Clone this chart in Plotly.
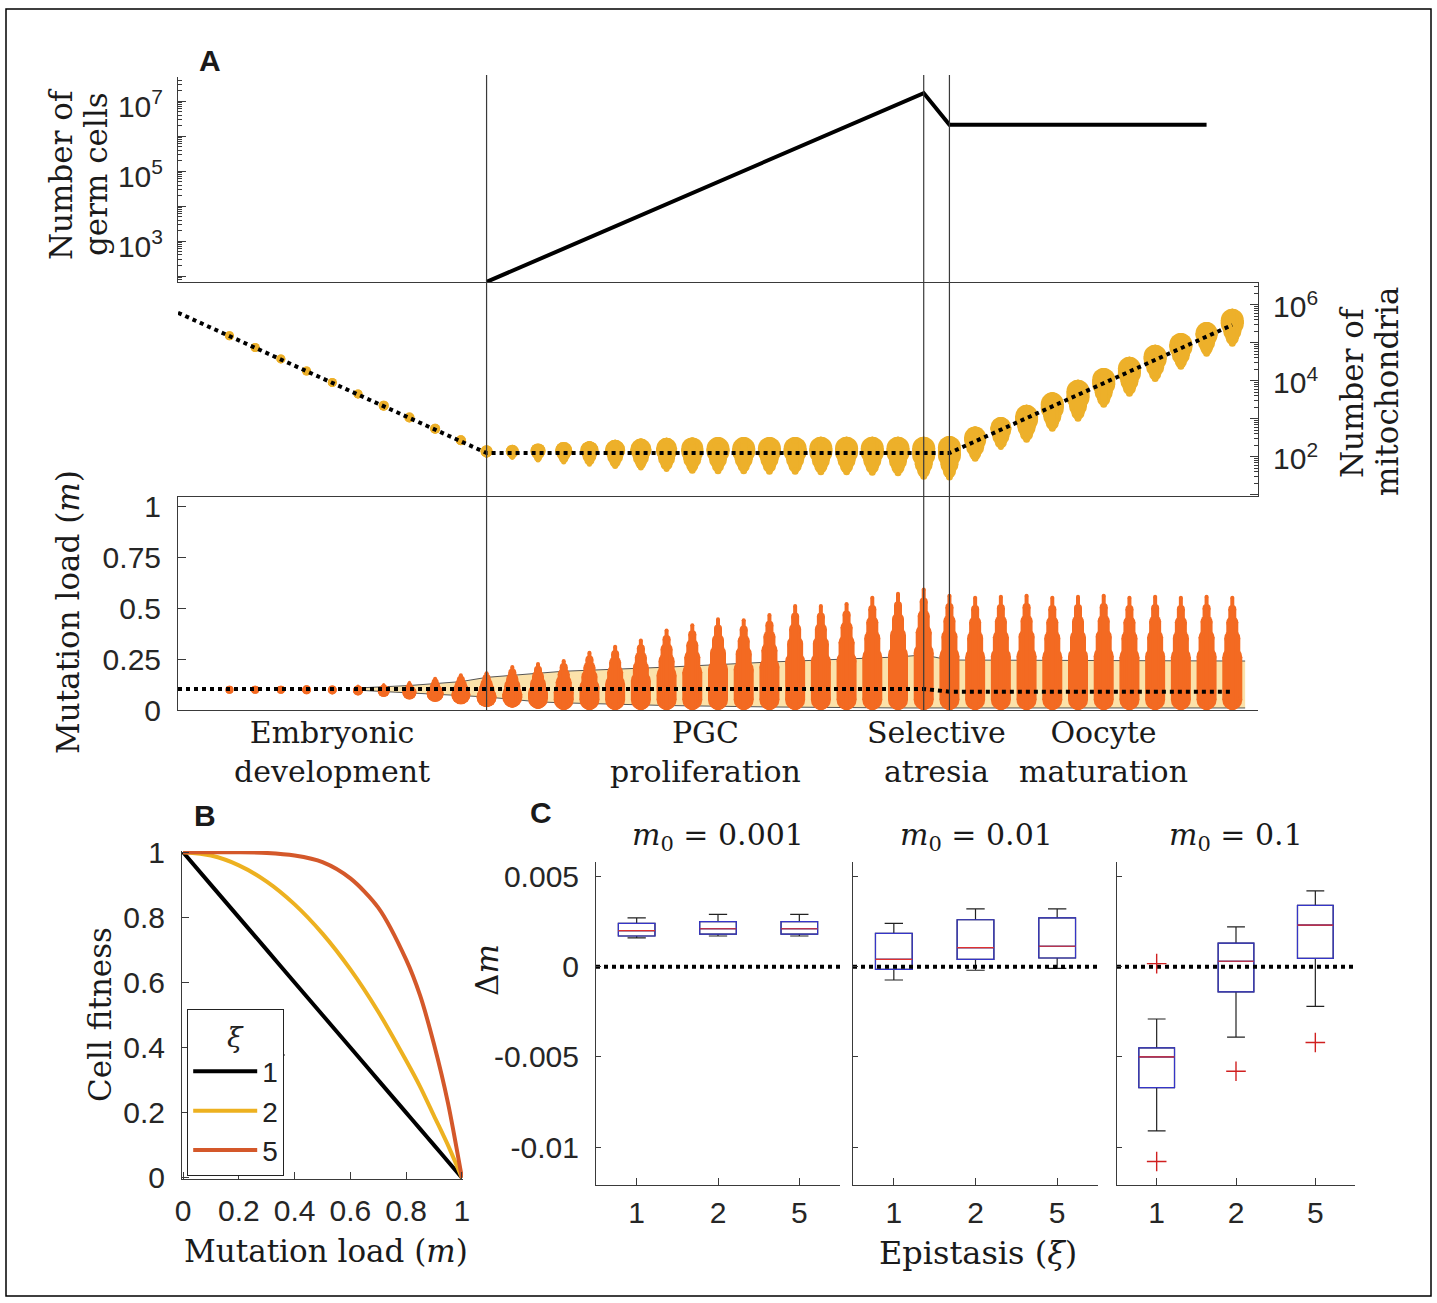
import numpy as np
import plotly.graph_objects as go

W, H = 1437, 1303

# ---------------- Panel A data ----------------
steps = list(range(2, 42))  # time steps where cells were sampled
phase_bounds = [0, 12, 29, 30, 42]
phase_names = ['Embryonic<br>development', 'PGC<br>proliferation',
               'Selective<br>atresia', 'Oocyte<br>maturation']

germ_t = [12, 29, 30, 40]
germ_cells = [68, 1.7e7, 2.1e6, 2.1e6]

mito_mean_t = [0, 12, 30, 41]
mito_mean = [6.2e5, 126, 126, 2.95e5]
mito_low = [1.38e5, 6.9e4, 3.4e4, 1.6e4, 7.9e3, 3.9e3, 1.86e3, 910, 440, 215,
            93, 83, 71, 63, 55, 48, 44, 40, 36, 35,
            35, 34, 34, 33, 33, 32, 31, 25, 24,
            74, 151, 234, 457, 832, 1950, 3800, 9300, 1.95e4, 4.27e4, 7.9e4]
mito_high = [1.62e5, 7.9e4, 4.0e4, 1.95e4, 9.8e3, 4.9e3, 2.45e3, 1.2e3, 615, 310,
             174, 186, 209, 234, 257, 282, 302, 316, 325, 331,
             331, 335, 335, 338, 338, 338, 339, 339, 355,
             631, 1120, 2340, 5000, 1.07e4, 2.19e4, 4.27e4, 8.9e4, 1.82e5, 3.55e5, 7.9e5]

load_mean_t = [0, 29, 30, 41]
load_mean = [0.103, 0.103, 0.09, 0.09]
load_low = [0.097, 0.096, 0.095, 0.094, 0.092, 0.085, 0.078, 0.064, 0.049, 0.034,
            0.015, 0.012, 0.006, 0, 0, 0, 0, 0, 0, 0,
            0, 0, 0, 0, 0, 0, 0, 0, 0,
            0, 0, 0, 0, 0, 0, 0, 0, 0, 0, 0]
load_high = [0.107, 0.108, 0.11, 0.112, 0.115, 0.125, 0.132, 0.143, 0.163, 0.18,
             0.19, 0.22, 0.235, 0.25, 0.29, 0.32, 0.35, 0.40, 0.425, 0.455,
             0.45, 0.475, 0.52, 0.52, 0.53, 0.56, 0.58, 0.60, 0.57,
             0.56, 0.565, 0.57, 0.56, 0.565, 0.57, 0.56, 0.565, 0.56, 0.565, 0.56]

band_t = [7, 9, 11, 12, 14, 15, 19, 23, 28, 29, 30, 41.5]
band_low = [0.097, 0.085, 0.073, 0.064, 0.04, 0.035, 0.022, 0.015, 0.01, 0.01, 0.01, 0.01]
band_high = [0.108, 0.12, 0.139, 0.16, 0.18, 0.19, 0.21, 0.235, 0.26, 0.27, 0.245, 0.24]

# ---------------- Panel B data ----------------
fit_m = [0, 0.1, 0.2, 0.3, 0.4, 0.5, 0.6, 0.7, 0.8, 0.85, 0.9, 0.95, 1]
fit_xi1 = [1, 0.9, 0.8, 0.7, 0.6, 0.5, 0.4, 0.3, 0.2, 0.15, 0.1, 0.05, 0]
fit_xi2 = [1, 0.99, 0.96, 0.91, 0.84, 0.75, 0.64, 0.51, 0.36, 0.28, 0.19, 0.10, 0]
fit_xi5 = [1, 1.0, 1.0, 0.998, 0.99, 0.97, 0.92, 0.83, 0.67, 0.56, 0.41, 0.23, 0]

# ---------------- Panel C data ----------------
xi_labels = ['1', '2', '5']
m0_titles = ['0.001', '0.01', '0.1']
box_high = [[0.0027, 0.0029, 0.0029], [0.0024, 0.0032, 0.0032], [-0.0029, 0.0022, 0.0042]]
box_q3 = [[0.0024, 0.0025, 0.0025], [0.00185, 0.0026, 0.0027], [-0.0045, 0.0013, 0.0034]]
box_med = [[0.0020, 0.0021, 0.0021], [0.0004, 0.00105, 0.00113], [-0.0050, 0.0003, 0.0023]]
box_q1 = [[0.0017, 0.0018, 0.0018], [-0.00015, 0.0004, 0.00048], [-0.0067, -0.0014, 0.00046]]
box_low = [[0.0016, 0.0017, 0.0017], [-0.00074, -0.0002, -0.0001], [-0.0091, -0.0039, -0.0022]]
outlier_xi = ['1', '1', '2', '5']
outlier_val = [0.00017, -0.0108, -0.0058, -0.0042]

# ---------------- styling ----------------
SERIF = 'DejaVu Serif'
SANS = 'Liberation Sans'
GOLD = '#EDB02A'
ORANGE = '#F36A22'
AX = '#3a3a3a'


def px(x):
    return x / W


def py(y):
    return 1 - y / H


fig = go.Figure()


def add_clusters(t, lo, hi, width_px, layers, color, xa, ya, px_per_unit):
    # each cluster drawn as a few stacked capsules (thick line + round end markers)
    t = np.asarray(t, float)
    lo = np.asarray(lo, float)
    hi = np.asarray(hi, float)
    span = hi - lo
    for f0, f1, wf in layers:
        w = np.round(width_px * wf)
        r = (w / 2) / px_per_unit
        y0 = lo + f0 * span
        y1 = lo + f1 * span
        mid = (y0 + y1) / 2
        a = np.minimum(y0 + r, mid)
        b = np.maximum(y1 - r, mid)
        for wv in np.unique(w):
            xs, ys = [], []
            for i in np.where(w == wv)[0]:
                xs += [t[i], t[i], None]
                ys += [a[i], b[i], None]
            fig.add_trace(go.Scatter(x=xs, y=ys, mode='lines+markers',
                                     line=dict(color=color, width=float(wv)),
                                     marker=dict(size=float(wv), color=color, line=dict(width=0)),
                                     xaxis=xa, yaxis=ya, showlegend=False, hoverinfo='skip'))


# top: germ cells
fig.add_trace(go.Scatter(x=germ_t, y=np.log10(germ_cells), mode='lines',
                         line=dict(color='black', width=4), xaxis='x', yaxis='y',
                         showlegend=False, hoverinfo='skip'))

# middle: mitochondria (log10 units)
mlo = np.log10(mito_low)
mhi = np.log10(mito_high)
mw = np.clip(8 + 15 * (mhi - mlo), 8, 23)
add_clusters(steps, mlo, mhi, mw,
             [(0.3, 1.0, 1.0), (0.15, 1.0, 0.8), (0.05, 1.0, 0.55), (0, 1.0, 0.3)],
             GOLD, 'x2', 'y2', 38.0)
fig.add_trace(go.Scatter(x=mito_mean_t, y=np.log10(mito_mean), mode='lines',
                         line=dict(color='black', width=4, dash='dot'), xaxis='x2', yaxis='y2',
                         showlegend=False, hoverinfo='skip'))

# bottom: mutation load
fig.add_trace(go.Scatter(x=band_t, y=band_low, mode='lines', line=dict(color='#555', width=1),
                         xaxis='x3', yaxis='y3', showlegend=False, hoverinfo='skip'))
fig.add_trace(go.Scatter(x=band_t, y=band_high, mode='lines', line=dict(color='#555', width=1),
                         fill='tonexty', fillcolor='#FBE2AA',
                         xaxis='x3', yaxis='y3', showlegend=False, hoverinfo='skip'))
llo = np.array(load_low)
lhi = np.array(load_high)
lw = np.clip(7 + 85 * (lhi - llo), 7, 20)
add_clusters(steps, llo, lhi, lw,
             [(0, 0.55, 1.0), (0, 0.7, 0.8), (0, 0.82, 0.6), (0, 0.92, 0.4), (0, 1.0, 0.22)],
             ORANGE, 'x3', 'y3', 204.0)
fig.add_trace(go.Scatter(x=load_mean_t, y=load_mean, mode='lines',
                         line=dict(color='black', width=4, dash='dot'), xaxis='x3', yaxis='y3',
                         showlegend=False, hoverinfo='skip'))

# panel B
for name, vals, col in [('1', fit_xi1, 'black'), ('2', fit_xi2, '#EDB120'), ('5', fit_xi5, '#D4582A')]:
    fig.add_trace(go.Scatter(x=fit_m, y=vals, mode='lines', name=name,
                             line=dict(color=col, width=4, shape='spline', smoothing=0.8),
                             xaxis='x4', yaxis='y4', hoverinfo='skip'))

# panel C
xi_pos = [1, 2, 3]
for k in range(3):
    xa, ya = f'x{5 + k}', f'y{5 + k}'
    fig.add_trace(go.Box(x=xi_pos, q1=box_q1[k], median=box_med[k], q3=box_q3[k],
                         lowerfence=box_low[k], upperfence=box_high[k],
                         width=0.45, whiskerwidth=0.5, boxpoints=False,
                         line=dict(color='#222', width=1.2), fillcolor='rgba(0,0,0,0)',
                         xaxis=xa, yaxis=ya, showlegend=False, hoverinfo='skip'))
    fig.add_trace(go.Box(x=xi_pos, q1=box_q1[k], median=box_med[k], q3=box_q3[k],
                         lowerfence=box_q1[k], upperfence=box_q3[k],
                         width=0.45, whiskerwidth=0, boxpoints=False,
                         line=dict(color='#3535C8', width=1.2), fillcolor='rgba(0,0,0,0)',
                         xaxis=xa, yaxis=ya, showlegend=False, hoverinfo='skip'))
    fig.add_trace(go.Box(x=xi_pos, q1=box_med[k], median=box_med[k], q3=box_med[k],
                         lowerfence=box_med[k], upperfence=box_med[k],
                         width=0.45, whiskerwidth=0, boxpoints=False,
                         line=dict(color='#E03030', width=1.2), fillcolor='rgba(0,0,0,0)',
                         xaxis=xa, yaxis=ya, showlegend=False, hoverinfo='skip'))
    fig.add_trace(go.Scatter(x=[0.5, 3.5], y=[0, 0], mode='lines',
                             line=dict(color='black', width=4, dash='dot'),
                             xaxis=xa, yaxis=ya, showlegend=False, hoverinfo='skip'))

fig.add_trace(go.Scatter(x=[xi_pos[xi_labels.index(v)] for v in outlier_xi], y=outlier_val,
                         mode='markers',
                         marker=dict(symbol='cross-thin', size=14, line=dict(color='#D02020', width=1.4)),
                         xaxis='x7', yaxis='y7', showlegend=False, hoverinfo='skip'))

# ---------------- axes ----------------
tick_font = dict(family=SANS, size=30, color='#262626')
minor_logs = [float(np.log10(k * 10.0 ** d)) for d in range(0, 8) for k in range(2, 10)]


def base_x(dom, rng, **kw):
    d = dict(domain=[px(dom[0]), px(dom[1])], range=rng, showgrid=False, zeroline=False,
             showline=True, linecolor=AX, linewidth=1, ticks='', showticklabels=False,
             automargin=False)
    d.update(kw)
    return d


def base_y(dom, rng, **kw):
    d = dict(domain=[py(dom[1]), py(dom[0])], range=rng, showgrid=False, zeroline=False,
             showline=True, linecolor=AX, linewidth=1, ticks='inside', ticklen=8,
             tickcolor=AX, tickfont=tick_font, automargin=False)
    d.update(kw)
    return d


pow_text = {2: '10<sup>2</sup>', 3: '10<sup>3</sup>', 4: '10<sup>4</sup>',
            5: '10<sup>5</sup>', 6: '10<sup>6</sup>', 7: '10<sup>7</sup>'}

layout_axes = dict(
    xaxis=base_x([178, 1258], [0, 42], anchor='y'),
    yaxis=base_y([77, 282], [1.83, 7.69], anchor='x', tickmode='array',
                 tickvals=[2, 3, 4, 5, 6, 7],
                 ticktext=['', pow_text[3], '', pow_text[5], '', pow_text[7]],
                 ticklabelstandoff=8, ticklabelshift=5,
                 minor=dict(tickmode='array', tickvals=minor_logs, ticks='inside',
                            ticklen=4, tickcolor=AX)),
    xaxis2=base_x([178, 1258], [0, 42], anchor='y2'),
    yaxis2=base_y([282, 496], [0.97, 6.6], anchor='x2', side='right', tickmode='array',
                  tickvals=[1, 2, 3, 4, 5, 6],
                  ticktext=['', pow_text[2], '', pow_text[4], '', pow_text[6]],
                  ticklabelstandoff=8, ticklabelshift=2,
                  minor=dict(tickmode='array', tickvals=minor_logs, ticks='inside',
                             ticklen=4, tickcolor=AX)),
    xaxis3=base_x([178, 1258], [0, 42], anchor='y3'),
    yaxis3=base_y([496, 710], [0, 1.049], anchor='x3', tickmode='array',
                  tickvals=[0, 0.25, 0.5, 0.75, 1], ticktext=['0', '0.25', '0.5', '0.75', '1'],
                  ticklabelstandoff=10),
    xaxis4=base_x([182, 463], [-0.004, 1.004], anchor='y4', ticks='inside', ticklen=7,
                  tickcolor=AX, showticklabels=True, tickfont=tick_font, tickmode='array',
                  tickvals=[0, 0.2, 0.4, 0.6, 0.8, 1], ticktext=['0', '0.2', '0.4', '0.6', '0.8', '1'],
                  ticklabelstandoff=5),
    yaxis4=base_y([851, 1179], [-0.004, 1.004], anchor='x4', ticklen=7, tickmode='array',
                  tickvals=[0, 0.2, 0.4, 0.6, 0.8, 1], ticktext=['0', '0.2', '0.4', '0.6', '0.8', '1'],
                  ticklabelstandoff=10),
)

c_doms = [[596, 840], [853, 1098], [1117, 1355]]
for k in range(3):
    layout_axes[f'xaxis{5 + k}'] = base_x(c_doms[k], [0.5, 3.5], anchor=f'y{5 + k}', ticks='inside',
                                          ticklen=7, tickcolor=AX, showticklabels=True,
                                          tickfont=tick_font, tickmode='array', tickvals=xi_pos,
                                          ticktext=xi_labels, ticklabelstandoff=1)
    layout_axes[f'yaxis{5 + k}'] = base_y([862, 1185], [-0.0121, 0.0058], anchor=f'x{5 + k}',
                                          ticklen=5, tickmode='array',
                                          tickvals=[-0.01, -0.005, 0, 0.005],
                                          ticktext=['-0.01', '-0.005', '0', '0.005'],
                                          showticklabels=(k == 0), ticklabelstandoff=10)

# ---------------- annotations ----------------
ann = []


def text(x, y, s, size=31, family=SERIF, angle=0, xanchor='center', yanchor='middle', **kw):
    ann.append(dict(x=px(x), y=py(y), xref='paper', yref='paper', text=s, showarrow=False,
                    textangle=angle, xanchor=xanchor, yanchor=yanchor,
                    font=dict(family=family, size=size, color='#1a1a1a'), **kw))


text(210, 60, '<b>A</b>', size=30, family=SANS)
text(205, 815, '<b>B</b>', size=30, family=SANS)
text(541, 812, '<b>C</b>', size=30, family=SANS)

text(61, 174, 'Number of', angle=-90)
text(96, 174, 'germ cells', angle=-90)
text(1352, 392, 'Number of', angle=-90)
text(1387, 392, 'mitochondria', angle=-90)
text(68, 612, 'Mutation load (<i>m</i>)', angle=-90)
text(100, 1015, 'Cell fitness', angle=-90)
text(326, 1251, 'Mutation load (<i>m</i>)')
text(487, 970, 'Δ<i>m</i>', angle=-90)
text(978, 1253, 'Epistasis (<i>ξ</i>)', size=32)

c_centers = [718, 976, 1236]
for k in range(3):
    text(c_centers[k], 836, '<i>m</i><sub>0</sub> = ' + m0_titles[k], size=30)

for i, name in enumerate(phase_names):
    ann.append(dict(x=(phase_bounds[i] + phase_bounds[i + 1]) / 2, y=py(713), xref='x3',
                    yref='paper', text=name, showarrow=False, xanchor='center', yanchor='top',
                    font=dict(family=SERIF, size=30, color='#1a1a1a')))

# ---------------- shapes ----------------
shapes = [dict(type='rect', xref='paper', yref='paper', x0=px(6), x1=px(1431),
               y0=py(1296), y1=py(9), line=dict(color='black', width=1.5))]
for b in phase_bounds[1:4]:
    shapes.append(dict(type='line', xref='x3', yref='paper', x0=b, x1=b,
                       y0=py(710), y1=py(75), line=dict(color=AX, width=1.2), layer='above'))
# legend title separator
shapes.append(dict(type='line', xref='paper', yref='paper', x0=px(187), x1=px(285),
                   y0=py(1055), y1=py(1055), line=dict(color='#222', width=1.2), layer='above'))

fig.update_layout(
    template='none',
    width=W, height=H, autosize=False,
    margin=dict(l=0, r=0, t=0, b=0, pad=0, autoexpand=False),
    paper_bgcolor='white', plot_bgcolor='rgba(0,0,0,0)',
    boxmode='overlay',
    annotations=ann, shapes=shapes,
    legend=dict(x=px(187), y=py(1009), xanchor='left', yanchor='top', traceorder='normal',
                bordercolor='#222', borderwidth=1.2, bgcolor='white',
                font=dict(family=SANS, size=28, color='#222'),
                title=dict(text='<i>ξ</i>', side='top center',
                           font=dict(family=SERIF, size=28, color='#222')),
                itemwidth=64, tracegroupgap=0),
    **layout_axes,
)

fig.write_html('out.html', config={'displayModeBar': False},
               post_script="document.documentElement.style.overflow='hidden';"
                           "document.body.style.margin='0';"
                           "document.body.style.overflow='hidden';")
